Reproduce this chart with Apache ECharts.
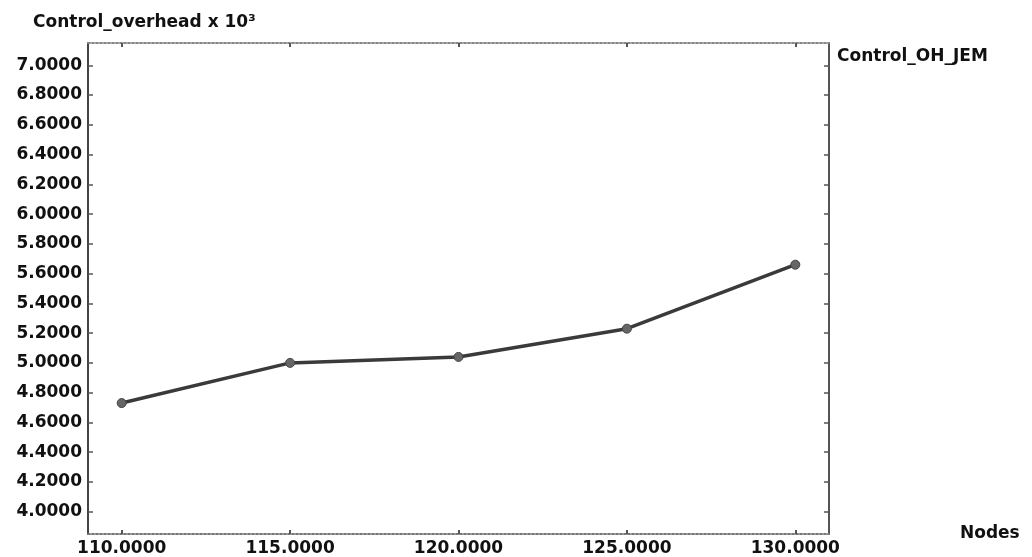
<!DOCTYPE html>
<html>
<head>
<meta charset="utf-8">
<script src="https://cdn.jsdelivr.net/npm/echarts@6/dist/echarts.min.js"></script>
<style>
html,body{margin:0;padding:0;background:#fff;}
#chart{width:1032px;height:557px;}
</style>
</head>
<body>
<div id="chart"></div>
<script>
const nodes = [110, 115, 120, 125, 130];
const controlOH = [4.73, 5.00, 5.04, 5.23, 5.66];
const xTicks = [110, 115, 120, 125, 130];
const yTicks = [4.0, 4.2, 4.4, 4.6, 4.8, 5.0, 5.2, 5.4, 5.6, 5.8, 6.0, 6.2, 6.4, 6.6, 6.8, 7.0];
const seriesName = 'Control_OH_JEM';
const yTitle = 'Control_overhead x 10\u00B3';
const xTitle = 'Nodes';

const FONT = 'DejaVu Sans';
const chart = echarts.init(document.getElementById('chart'));
chart.setOption({
  animation: false,
  backgroundColor: '#fff',
  title: {
    text: yTitle, left: 28, top: 9,
    textStyle: {fontFamily: FONT, fontSize: 17, fontWeight: 'bold', color: '#111'}
  },
  legend: {
    data: [seriesName], left: 826, top: 43,
    itemWidth: 0, itemHeight: 0, itemGap: 0,
    textStyle: {fontFamily: FONT, fontSize: 17, fontWeight: 'bold', color: '#111'}
  },
  grid: {left: 88, right: 203, top: 43, bottom: 21},
  xAxis: [{
    type: 'value', position: 'bottom', min: 109, max: 131,
    name: xTitle, nameLocation: 'end', nameGap: 131,
    nameTextStyle: {fontFamily: FONT, fontSize: 17, fontWeight: 'bold', color: '#111', verticalAlign: 'middle'},
    axisLine: {show: true, lineStyle: {color: '#777', width: 2, type: 'dotted'}},
    axisTick: {show: true, inside: true, length: 4, customValues: xTicks, lineStyle: {color: '#555', width: 2}},
    axisLabel: {customValues: xTicks, margin: 6, fontFamily: FONT, fontSize: 17, fontWeight: 'bold', color: '#111',
      formatter: v => v.toFixed(4)},
    splitLine: {show: false}
  }, {
    type: 'value', position: 'top', min: 109, max: 131,
    axisLine: {show: true, lineStyle: {color: '#888', width: 2, type: 'dotted'}},
    axisTick: {show: true, inside: true, length: 4, customValues: xTicks, lineStyle: {color: '#555', width: 2}},
    axisLabel: {show: false},
    splitLine: {show: false}
  }],
  yAxis: [{
    type: 'value', position: 'left', min: 3.85, max: 7.15,
    axisLine: {show: true, lineStyle: {color: '#444', width: 2}},
    axisTick: {show: true, inside: true, length: 5, customValues: yTicks, lineStyle: {color: '#555', width: 1.5}},
    axisLabel: {customValues: yTicks, margin: 6, fontFamily: FONT, fontSize: 17, fontWeight: 'bold', color: '#111',
      formatter: v => v.toFixed(4)},
    splitLine: {show: false}
  }, {
    type: 'value', position: 'right', min: 3.85, max: 7.15,
    axisLine: {show: true, lineStyle: {color: '#555', width: 2}},
    axisTick: {show: true, inside: true, length: 5, customValues: yTicks, lineStyle: {color: '#555', width: 1.5}},
    axisLabel: {show: false},
    splitLine: {show: false}
  }],
  series: [{
    name: seriesName, type: 'line',
    data: nodes.map((n, i) => [n, controlOH[i]]),
    symbol: 'circle', symbolSize: 9,
    lineStyle: {color: '#3a3a3a', width: 3.5},
    itemStyle: {color: '#666', borderColor: '#444', borderWidth: 1}
  }]
});
</script>
</body>
</html>
